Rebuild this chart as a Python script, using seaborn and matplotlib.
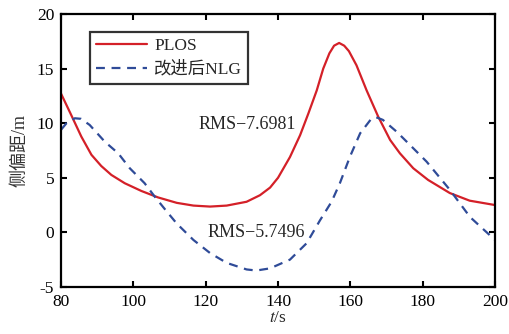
import numpy as np
import pandas as pd
import seaborn as sns
import matplotlib.pyplot as plt

# PLOS curve
plos_t = [80, 82.8, 85.6, 88.4, 91.1, 93.9, 97.6, 102.2, 106.8, 112, 116.6, 121.2,
          125.8, 131.3, 135, 137.8, 140, 143.3, 146.1, 148.4, 150.7, 152.5, 154.2,
          155.5, 156.9, 158.3, 159.6, 161.7, 164.5, 167.7, 171, 173.7, 177.4,
          181.5, 187.5, 193, 200]
plos_y = [12.7, 10.75, 8.77, 7.1, 6.08, 5.26, 4.5, 3.79, 3.2, 2.7, 2.45, 2.36,
          2.45, 2.8, 3.4, 4.1, 5.0, 6.9, 8.9, 10.9, 13.0, 15.0, 16.4,
          17.1, 17.35, 17.1, 16.6, 15.3, 13.0, 10.6, 8.46, 7.24, 5.87,
          4.8, 3.6, 2.9, 2.5]

# improved NLG curve
nlg_t = [80, 81.5, 83.8, 85.5, 87.9, 92.1, 95.8, 99, 103.1, 105.9, 109, 112,
         116.6, 121.2, 125.8, 131.3, 134, 137.8, 143.3, 147.9, 151.6, 154.8,
         157.1, 159.9, 162.7, 165.9, 167.5, 169, 172.8, 176.5, 181.1, 187.5,
         193.1, 200]
nlg_y = [9.4, 10.0, 10.45, 10.4, 9.84, 8.3, 7.24, 5.87, 4.5, 3.27, 2.0, 0.8,
         -0.7, -1.9, -2.8, -3.4, -3.5, -3.3, -2.5, -1.0, 1.1, 2.8,
         4.5, 6.94, 9.07, 10.45, 10.5, 10.3, 9.22, 8.0, 6.47, 3.9,
         1.4, -0.7]

labels = ["PLOS", "改进后NLG"]
rms_text = ["RMS\u22127.6981", "RMS\u22125.7496"]

sns.set_style("ticks")
plt.rcParams['font.family'] = ['Liberation Serif', 'Noto Sans CJK SC']
plt.rcParams['mathtext.fontset'] = 'stix'
plt.rcParams['axes.unicode_minus'] = False

fig = plt.figure(figsize=(5.09, 3.34), dpi=100)
ax = fig.add_axes([0.12, 0.141, 0.8525, 0.817])

df1 = pd.DataFrame({"t": plos_t, "y": plos_y})
df2 = pd.DataFrame({"t": nlg_t, "y": nlg_y})
sns.lineplot(data=df1, x="t", y="y", ax=ax, color="#d42028", lw=1.6, label=labels[0])
sns.lineplot(data=df2, x="t", y="y", ax=ax, color="#2f4b98", lw=1.6,
             dashes=False, label=labels[1])
ax.lines[1].set_dashes([4, 3])

ax.set_xlim(80, 200)
ax.set_ylim(-5, 20)
ax.set_xticks([80, 100, 120, 140, 160, 180, 200])
ax.set_yticks([-5, 0, 5, 10, 15, 20])
ax.tick_params(direction="in", length=4, width=1.5, labelsize=12.5,
               top=True, right=True, colors="black", pad=5)
for s in ax.spines.values():
    s.set_linewidth(1.6)
    s.set_color("black")

ax.set_xlabel("$t$/s", fontsize=12.5, labelpad=0)
ax.set_ylabel("侧偏距/m", fontsize=13, labelpad=6, color="#333333")

ax.text(117.9, 9.9, rms_text[0], fontsize=13, va="center", ha="left")
ax.text(120.6, -0.05, rms_text[1], fontsize=13, va="center", ha="left")

leg = ax.legend(loc="upper left", bbox_to_anchor=(0.067, 0.934), borderaxespad=0,
                fontsize=12.5, frameon=True, fancybox=False, edgecolor="black",
                handlelength=2.9, handletextpad=0.45, borderpad=0.35,
                labelspacing=0.4)
leg.get_frame().set_linewidth(1.6)

fig.savefig("out.png", dpi=100)
